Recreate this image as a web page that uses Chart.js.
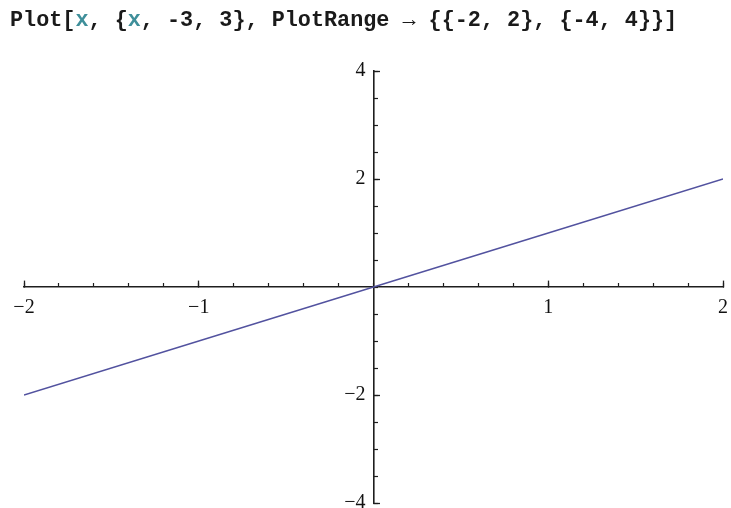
<!DOCTYPE html>
<html>
<head>
<meta charset="utf-8">
<script src="https://cdn.jsdelivr.net/npm/chart.js@4/dist/chart.umd.min.js"></script>
<style>
  html, body { margin: 0; padding: 0; background: #fff; }
  #wrap { position: relative; width: 731px; height: 508px; overflow: hidden; }
  #plot { position: absolute; left: 0; top: 0; }
  #code {
    position: absolute; left: 10px; top: 10px;
    font-family: "Liberation Mono", "DejaVu Sans Mono", monospace;
    font-weight: bold; font-size: 21.8px; line-height: 22px;
    color: #1a1a1a; white-space: pre;
  }
  #code .v { color: #3f8f9a; }
</style>
</head>
<body>
<div id="wrap">
  <canvas id="plot" width="731" height="508"></canvas>
  <div id="code">Plot[<span class="v">x</span>, {<span class="v">x</span>, -3, 3}, PlotRange → {{-2, 2}, {-4, 4}}]</div>
</div>
<script>
// y = x sampled on the visible range
const xValues = [-2, -1, 0, 1, 2];
const yValues = [-2, -1, 0, 1, 2];

// axis ranges and labelled tick positions
const xRange = [-2, 2];
const yRange = [-4, 4];
const xMajorTicks = [-2, -1, 1, 2];
const yMajorTicks = [-4, -2, 2, 4];
const xMinorStep = 0.2;
const yMinorStep = 0.5;

const axisColor = '#1e1e1e';
const labelFont = { family: '"Liberation Serif", "Times New Roman", serif', size: 20 };

// tick marks point up from the x axis and right from the y axis,
// hence the negative lengths for axes that cross the plot
const majorLen = -7;
const minorLen = -4;

const fmt = v => (v < 0 ? '\u2212' + Math.abs(v) : String(v));
const setTicks = list => scale => { scale.ticks = list.map(v => ({ value: v })); };
const noPad = scale => {
  scale.paddingLeft = 0; scale.paddingRight = 0;
  scale.paddingTop = 0; scale.paddingBottom = 0;
};

function crossAxis(axisId, range, extra) {
  return Object.assign({
    type: 'linear',
    axis: axisId,
    min: range[0],
    max: range[1],
    afterFit: noPad
  }, extra);
}

new Chart(document.getElementById('plot'), {
  type: 'scatter',
  data: {
    datasets: [{
      data: xValues.map((x, i) => ({ x: x, y: yValues[i] })),
      showLine: true,
      borderColor: '#52529f',
      borderWidth: 1.4,
      pointRadius: 0,
      tension: 0,
      xAxisID: 'x',
      yAxisID: 'y'
    }]
  },
  options: {
    responsive: false,
    devicePixelRatio: 1,
    animation: false,
    layout: { padding: { left: 24, right: 8, top: 71, bottom: 5 } },
    plugins: { legend: { display: false }, tooltip: { enabled: false }, title: { display: false } },
    scales: {
      // horizontal axis through y = 0 with its tick marks
      x: crossAxis('x', xRange, {
        position: { y: 0 },
        afterBuildTicks: setTicks(xMajorTicks),
        ticks: { display: false, autoSkip: false },
        grid: { drawOnChartArea: false, tickLength: majorLen, tickColor: axisColor, tickWidth: 1.3 },
        border: { color: axisColor, width: 1.6 }
      }),
      xMinor: crossAxis('x', xRange, {
        position: { y: 0 },
        ticks: { display: false, stepSize: xMinorStep },
        grid: { drawOnChartArea: false, tickLength: minorLen, tickColor: axisColor, tickWidth: 1.2 },
        border: { display: false }
      }),
      // labels under the horizontal axis
      xLabels: crossAxis('x', xRange, {
        position: { y: 0 },
        afterBuildTicks: setTicks(xMajorTicks),
        ticks: { autoSkip: false, maxRotation: 0, padding: 1, color: '#111', font: labelFont, callback: fmt },
        grid: { display: false },
        border: { display: false }
      }),
      // vertical axis through x = 0
      y: crossAxis('y', yRange, {
        position: { x: 0 },
        afterBuildTicks: setTicks(yMajorTicks),
        ticks: { display: false, autoSkip: false },
        grid: { drawOnChartArea: false, tickLength: majorLen, tickColor: axisColor, tickWidth: 1.3 },
        border: { color: axisColor, width: 1.6 }
      }),
      yMinor: crossAxis('y', yRange, {
        position: { x: 0 },
        ticks: { display: false, stepSize: yMinorStep },
        grid: { drawOnChartArea: false, tickLength: minorLen, tickColor: axisColor, tickWidth: 1.2 },
        border: { display: false }
      }),
      // labels for the vertical axis, set just left of the axis line
      yLabels: crossAxis('y', yRange, {
        position: { x: -0.046 },
        afterBuildTicks: setTicks(yMajorTicks),
        ticks: { autoSkip: false, color: '#111', font: labelFont, callback: fmt },
        grid: { display: false },
        border: { display: false }
      })
    }
  }
});
</script>
</body>
</html>
